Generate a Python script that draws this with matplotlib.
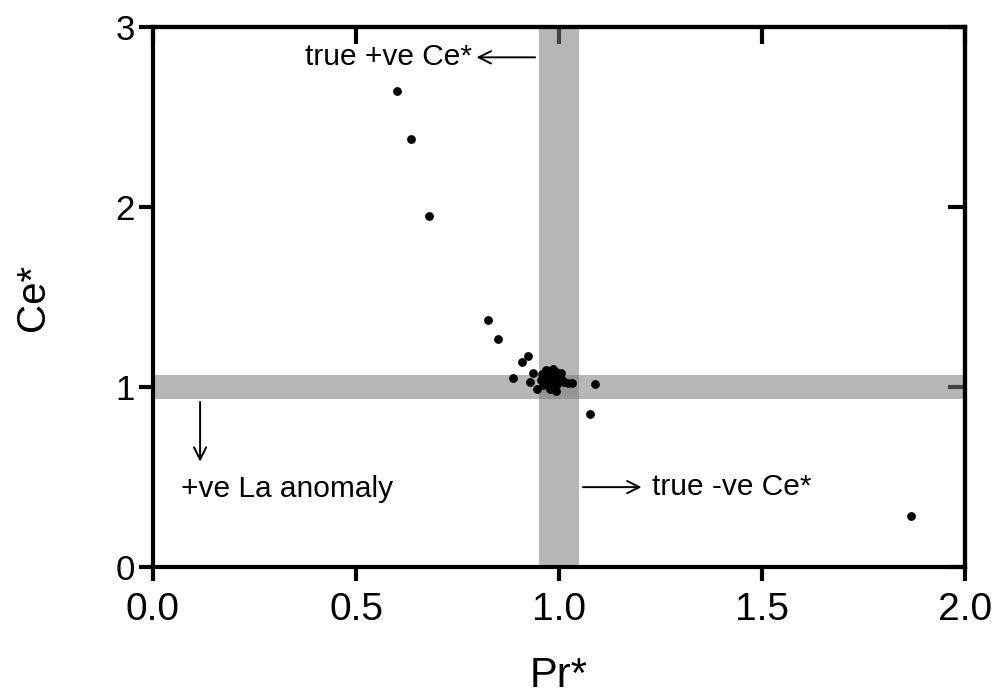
import numpy as np
import matplotlib.pyplot as plt

plt.rcParams['font.family'] = ['Liberation Sans', 'DejaVu Sans']

# Pr* and Ce* values
pr_star = [0.601, 0.635, 0.680, 0.825, 0.850, 0.924, 0.910, 0.887, 1.089, 1.076,
           0.945, 0.993, 0.978, 0.935, 0.929, 1.031, 1.022, 1.867,
           0.955, 0.962, 0.970, 0.978, 0.985, 0.992, 1.000, 1.008,
           0.958, 0.966, 0.974, 0.982, 0.990, 0.998, 1.005,
           0.960, 0.968, 0.976, 0.984, 0.994, 1.002, 0.972, 0.988, 1.012]
ce_star = [2.644, 2.378, 1.950, 1.372, 1.267, 1.172, 1.139, 1.052, 1.020, 0.850,
           0.989, 0.978, 0.987, 1.081, 1.030, 1.024, 1.024, 0.283,
           1.040, 1.060, 1.045, 1.075, 1.050, 1.085, 1.065, 1.040,
           1.075, 1.030, 1.090, 1.030, 1.060, 1.040, 1.080,
           1.010, 1.095, 1.020, 1.100, 1.015, 1.055, 1.065, 1.035, 1.030]

x_band = (0.95, 1.05)
y_band = (0.935, 1.065)

fig = plt.figure(figsize=(9.98, 7.0), dpi=100)
ax = fig.add_axes([0.1533, 0.19, 0.8137, 0.771])

# grey bands, overlapping region gets darker
ax.axvspan(*x_band, color='#7a7a7a', alpha=0.55, lw=0, zorder=1)
ax.axhspan(*y_band, color='#7a7a7a', alpha=0.55, lw=0, zorder=1)

ax.scatter(pr_star, ce_star, s=40, color='black', zorder=3, linewidths=0)

arrow = dict(arrowstyle='->', color='black', lw=1.4, mutation_scale=22)
ax.annotate('', xy=(0.79, 2.833), xytext=(0.948, 2.833), arrowprops=arrow)
ax.text(0.785, 2.833, 'true +ve Ce*', fontsize=21.5, ha='right', va='center')
ax.annotate('', xy=(0.116, 0.57), xytext=(0.116, 0.933), arrowprops=arrow)
ax.text(0.069, 0.435, '+ve La anomaly', fontsize=21.5, ha='left', va='center')
ax.annotate('', xy=(1.21, 0.444), xytext=(1.052, 0.444), arrowprops=arrow)
ax.text(1.229, 0.444, 'true -ve Ce*', fontsize=21.5, ha='left', va='center')

ax.set_xlim(0, 2)
ax.set_ylim(0, 3)
ax.set_xticks([0.0, 0.5, 1.0, 1.5, 2.0])
ax.set_xticklabels(['0.0', '0.5', '1.0', '1.5', '2.0'])
ax.set_yticks([0, 1, 2, 3])
ax.set_xlabel('Pr*', fontsize=30, labelpad=20)
ax.set_ylabel('Ce*', fontsize=29, labelpad=46)

for s in ax.spines.values():
    s.set_linewidth(3)
ax.tick_params(axis='both', which='major', width=3, length=10,
               direction='out', top=False, right=False)
ax.tick_params(axis='x', labelsize=28, pad=8)
ax.tick_params(axis='y', labelsize=25, pad=3)

# inward ticks on top and right
ax_top = ax.secondary_xaxis('top')
ax_top.set_xticks([0.0, 0.5, 1.0, 1.5, 2.0])
ax_top.tick_params(direction='in', width=3, length=12, labeltop=False)
ax_right = ax.secondary_yaxis('right')
ax_right.set_yticks([0, 1, 2, 3])
ax_right.tick_params(direction='in', width=3, length=12, labelright=False)
for sec in (ax_top, ax_right):
    for s in sec.spines.values():
        s.set_linewidth(3)

fig.savefig('out.png', dpi=100)
